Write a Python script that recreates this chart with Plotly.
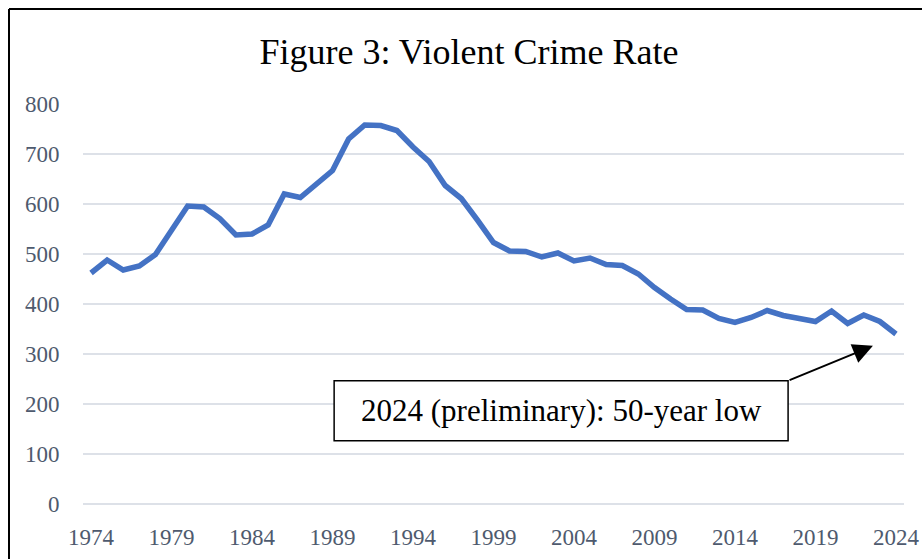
import plotly.graph_objects as go

years = list(range(1974, 2025))
violent_rate = [462, 488, 468, 476, 499, 548, 596, 594, 571, 538,
                540, 558, 620, 613, 641, 667, 730, 758, 757, 747,
                714, 685, 637, 611, 568, 523, 506, 505, 494, 502,
                486, 492, 479, 477, 460, 433, 410, 389, 388, 371,
                363, 373, 387, 377, 371, 365, 386, 361, 378, 365, 340]
x_ticks = list(range(1974, 2025, 5))
x_tick_labels = [str(y) for y in x_ticks]
y_ticks = [0, 100, 200, 300, 400, 500, 600, 700, 800]
title_text = "Figure 3: Violent Crime Rate"
note_text = "2024 (preliminary): 50-year low"

SERIF = "Liberation Serif"
TICK_COLOR = "#4E5A6E"
GRID_COLOR = "#DDE1E8"

fig = go.Figure()
fig.add_trace(go.Scatter(
    x=years, y=violent_rate, mode="lines",
    line=dict(color="#4472C4", width=5.5, shape="linear"),
    hoverinfo="x+y", showlegend=False,
))

fig.update_layout(
    width=922, height=559,
    margin=dict(l=83, r=18, t=104, b=55, pad=0, autoexpand=False),
    paper_bgcolor="white", plot_bgcolor="white",
    font=dict(family=SERIF),
    title=dict(text=title_text, x=469 / 922, xanchor="center",
               y=1 - 51 / 559, yanchor="middle",
               font=dict(family=SERIF, size=36, color="black")),
    xaxis=dict(range=[1973.5, 2024.5], tickvals=x_ticks, ticktext=x_tick_labels,
               showgrid=False, zeroline=False, showline=False, automargin=False,
               ticks="outside", ticklen=12, tickcolor="rgba(0,0,0,0)",
               tickfont=dict(family=SERIF, size=23, color=TICK_COLOR)),
    yaxis=dict(range=[0, 800], tickvals=y_ticks, automargin=False,
               showgrid=True, gridcolor=GRID_COLOR, gridwidth=1.5,
               zeroline=True, zerolinecolor=GRID_COLOR, zerolinewidth=1.5,
               showline=False,
               ticks="outside", ticklen=18, tickcolor="rgba(0,0,0,0)",
               tickfont=dict(family=SERIF, size=23, color=TICK_COLOR)),
)

# outer border (top and left edges visible)
fig.add_shape(type="line", xref="paper", yref="paper",
              x0=(9 - 83) / 821, x1=(9 - 83) / 821,
              y0=-0.2, y1=(504.3 - 9) / 400.3,
              line=dict(color="black", width=2))
fig.add_shape(type="line", xref="paper", yref="paper",
              x0=(9 - 83) / 821, x1=1.1,
              y0=(504.3 - 9) / 400.3, y1=(504.3 - 9) / 400.3,
              line=dict(color="black", width=2))

# callout box
fig.add_shape(type="rect", xref="x", yref="y",
              x0=1989.1, x1=2017.3, y0=126.5, y1=246.4,
              line=dict(color="black", width=1.5), fillcolor="white", layer="above")
fig.add_annotation(x=2003.2, y=186.4, xref="x", yref="y",
                   text=note_text, showarrow=False,
                   xanchor="center", yanchor="middle",
                   font=dict(family=SERIF, size=31, color="black"))
# arrow
fig.add_annotation(x=2022.57, y=316.3, xref="x", yref="y",
                   ax=2017.3, ay=246.4, axref="x", ayref="y",
                   text="", showarrow=True,
                   arrowhead=2, arrowsize=2, arrowwidth=2, arrowcolor="black")

fig.write_html(
    "out.html",
    config={"displayModeBar": False},
    post_script="document.body.style.margin='0';document.body.style.overflow='hidden';",
)
